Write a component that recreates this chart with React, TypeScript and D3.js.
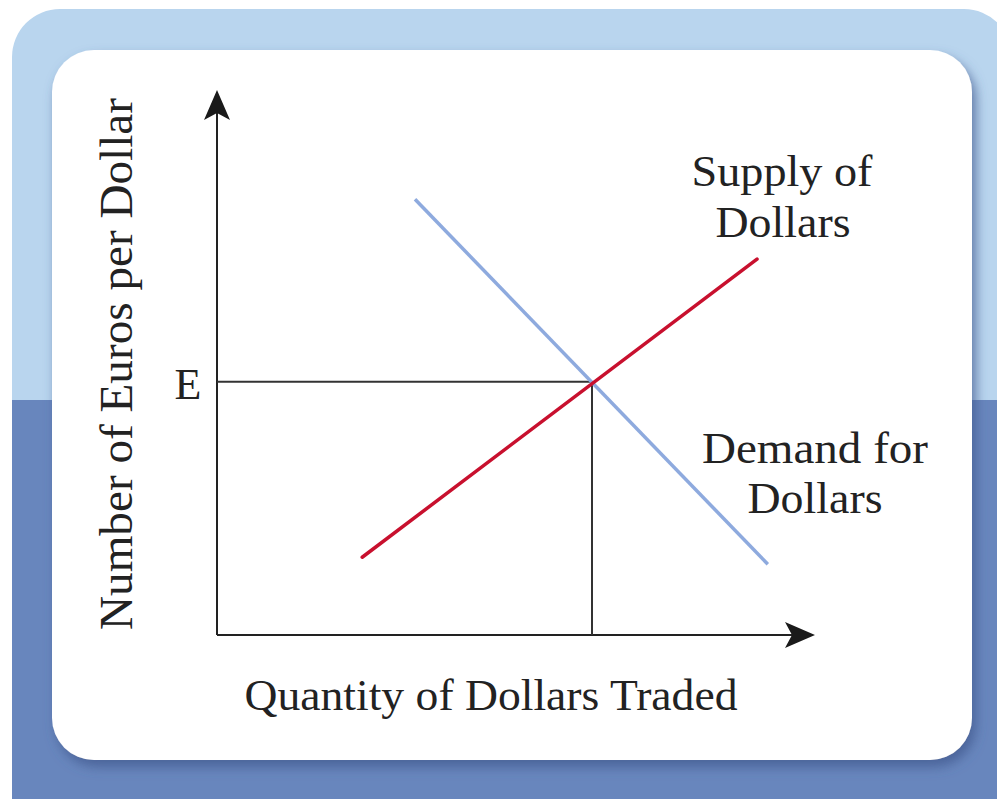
import React from "react";
import * as d3 from "d3";

// Conceptual units (0..100) on both axes
const supplyPoints: [number, number][] = [
  [24.2, 14.4],
  [90, 69.6],
];
const demandPoints: [number, number][] = [
  [33, 80.7],
  [91.8, 13.1],
];
const equilibrium: [number, number] = [62.5, 46.9];
const xAxisLabel = "Quantity of Dollars Traded";
const yAxisLabel = "Number of Euros per Dollar";
const equilibriumLabel = "E";
const supplyLabel = ["Supply of", "Dollars"];
const demandLabel = ["Demand for", "Dollars"];

const W = 997;
const H = 799;
const FONT = "'Liberation Serif', 'DejaVu Serif', serif";

export default function App() {
  const x = d3.scaleLinear().domain([0, 100]).range([217, 817]);
  const y = d3.scaleLinear().domain([0, 100]).range([635, 95]);
  const line = d3
    .line<[number, number]>()
    .x((d) => x(d[0]))
    .y((d) => y(d[1]));

  const x0 = x(0);
  const y0 = y(0);
  const ex = x(equilibrium[0]);
  const ey = y(equilibrium[1]);
  const yTop = y(100);
  const xEnd = x(100);

  return (
    <svg
      width={W}
      height={H}
      style={{ position: "absolute", left: 0, top: 0, display: "block" }}
    >
      <defs>
        <clipPath id="lowerHalf">
          <rect x={0} y={400} width={W} height={H - 400} />
        </clipPath>
        <filter id="shadow" x="-10%" y="-10%" width="125%" height="125%">
          <feDropShadow dx={4} dy={7} stdDeviation={6} floodColor="#3f5a8f" floodOpacity={0.75} />
        </filter>
      </defs>
      <rect x={0} y={0} width={W} height={H} fill="#ffffff" />
      <rect x={12} y={9} width={1000} height={840} rx={48} fill="#b9d5ee" />
      <rect
        x={12}
        y={9}
        width={1000}
        height={840}
        rx={48}
        fill="#6886bd"
        clipPath="url(#lowerHalf)"
      />
      <rect
        x={52}
        y={50}
        width={920}
        height={710}
        rx={42}
        fill="#ffffff"
        filter="url(#shadow)"
      />

      {/* axes */}
      <line x1={x0} y1={y0} x2={x0} y2={yTop + 10} stroke="#222" strokeWidth={2} />
      <line x1={x0} y1={y0} x2={xEnd - 10} y2={y0} stroke="#222" strokeWidth={2} />
      <path
        d={`M${x0},${yTop - 5} L${x0 + 13},${yTop + 25} L${x0},${yTop + 18} L${x0 - 13},${yTop + 25} Z`}
        fill="#1a1a1a"
      />
      <path
        d={`M${xEnd - 2},${y0} L${xEnd - 32},${y0 + 13} L${xEnd - 25},${y0} L${xEnd - 32},${y0 - 13} Z`}
        fill="#1a1a1a"
      />

      {/* equilibrium guides */}
      <line x1={x0} y1={ey} x2={ex} y2={ey} stroke="#333" strokeWidth={2} />
      <line x1={ex} y1={ey} x2={ex} y2={y0} stroke="#333" strokeWidth={2} />

      {/* curves */}
      <path d={line(demandPoints) || ""} stroke="#8eaade" strokeWidth={3.5} fill="none" />
      <path
        d={line(supplyPoints) || ""}
        stroke="#c8102e"
        strokeWidth={3.5}
        fill="none"
        strokeLinecap="round"
      />

      {/* labels */}
      <g fontFamily={FONT} fill="#222">
        <text x={188} y={399} fontSize={44} textAnchor="middle">
          {equilibriumLabel}
        </text>
        <text
          x={491}
          y={710}
          fontSize={45}
          textAnchor="middle"
          textLength={493}
          lengthAdjust="spacingAndGlyphs"
        >
          {xAxisLabel}
        </text>
        <text
          transform={`translate(132, 364) rotate(-90)`}
          fontSize={46}
          textAnchor="middle"
          textLength={532}
          lengthAdjust="spacingAndGlyphs"
        >
          {yAxisLabel}
        </text>
        <text x={782} y={186} fontSize={44} textAnchor="middle" textLength={181} lengthAdjust="spacingAndGlyphs">
          {supplyLabel[0]}
        </text>
        <text x={783} y={237} fontSize={44} textAnchor="middle" textLength={135} lengthAdjust="spacingAndGlyphs">
          {supplyLabel[1]}
        </text>
        <text x={815} y={463} fontSize={44} textAnchor="middle" textLength={226} lengthAdjust="spacingAndGlyphs">
          {demandLabel[0]}
        </text>
        <text x={815} y={513} fontSize={44} textAnchor="middle" textLength={135} lengthAdjust="spacingAndGlyphs">
          {demandLabel[1]}
        </text>
      </g>
    </svg>
  );
}
